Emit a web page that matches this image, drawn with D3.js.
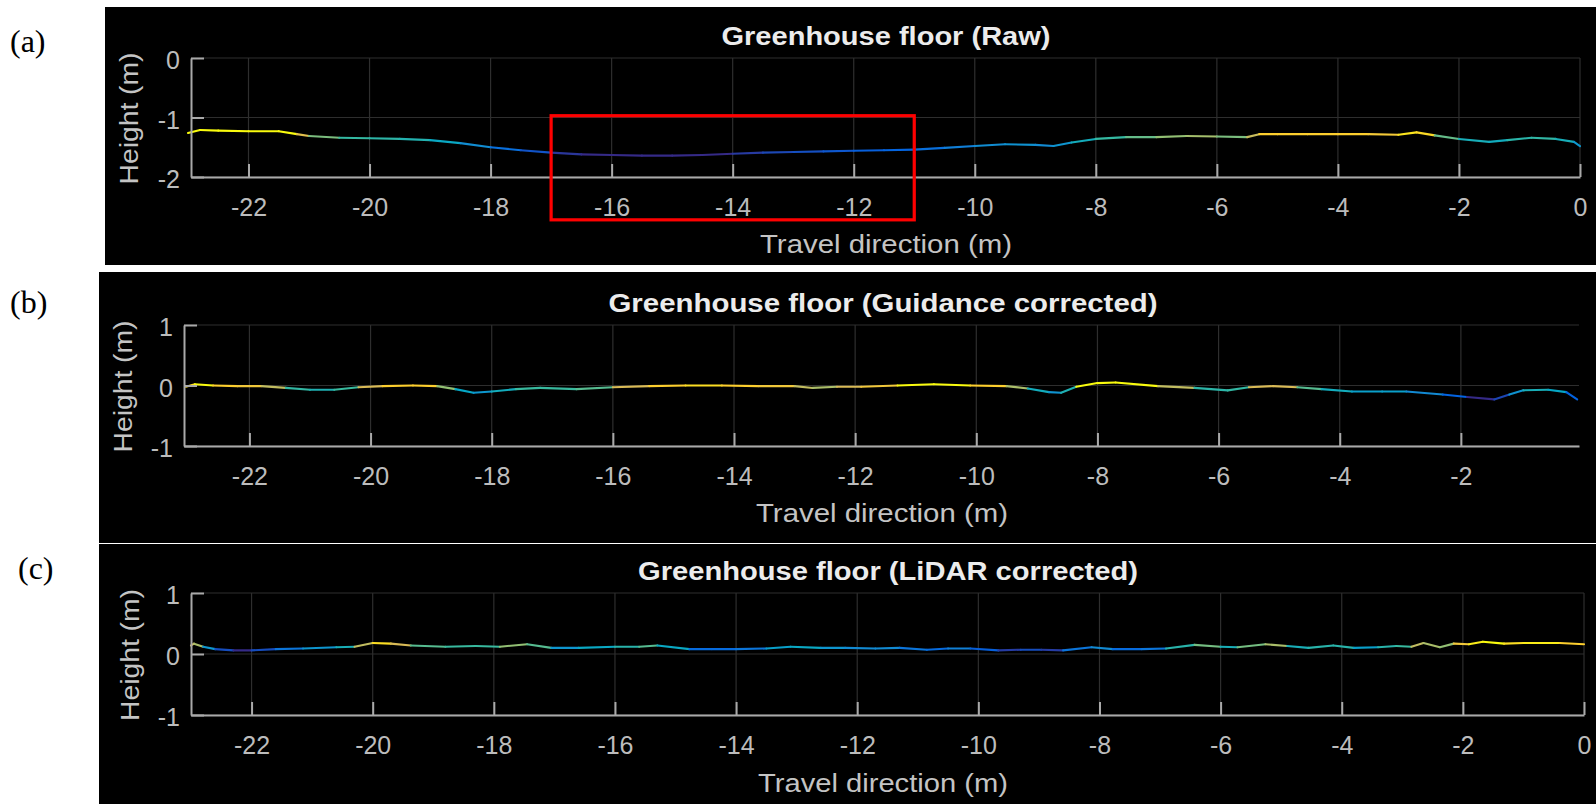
<!DOCTYPE html>
<html><head><meta charset="utf-8">
<script src="https://cdn.jsdelivr.net/npm/d3@7"></script>
<style>
body{margin:0;background:#fff;}
svg{display:block;}
text{font-family:"Liberation Sans",Arial,Helvetica,sans-serif;}
</style></head><body>
<svg id="chart" width="1596" height="804"></svg>
<script>
// ---------------- data ----------------
const panelLabels = ["(a)", "(b)", "(c)"];
const titles = ["Greenhouse floor (Raw)", "Greenhouse floor (Guidance corrected)", "Greenhouse floor (LiDAR corrected)"];
const xAxisLabel = "Travel direction (m)";
const yAxisLabel = "Height (m)";

const xTicksA = [-22, -20, -18, -16, -14, -12, -10, -8, -6, -4, -2, 0];
const xTicksB = [-22, -20, -18, -16, -14, -12, -10, -8, -6, -4, -2];
const xTicksC = [-22, -20, -18, -16, -14, -12, -10, -8, -6, -4, -2, 0];
const yTicksA = [0, -1, -2];
const yTicksB = [1, 0, -1];
const yTicksC = [1, 0, -1];

const xDomainA = [-22.95, 0];
const xDomainB = [-23.08, -0.05];
const xDomainC = [-23.0, 0];
const yDomainA = [-2, 0];
const yDomainB = [-1, 1];
const yDomainC = [-1, 1];

// (a) Raw
const rawX = [-23, -22.8, -22.5, -22, -21.5, -21.2, -21, -20.5, -20, -19.5, -19, -18.5, -18, -17.5, -17, -16.5, -16, -15.5, -15, -14.5, -14, -13.5, -13, -12.5, -12, -11.5, -11, -10.5, -10, -9.5, -9, -8.7, -8.4, -8, -7.5, -7, -6.5, -6, -5.5, -5.3, -5, -4.5, -4, -3.5, -3, -2.7, -2.4, -2, -1.5, -1.2, -0.8, -0.4, -0.1, 0];
const rawY = [-1.26, -1.21, -1.22, -1.23, -1.23, -1.28, -1.31, -1.34, -1.35, -1.36, -1.38, -1.43, -1.5, -1.55, -1.59, -1.62, -1.63, -1.64, -1.64, -1.63, -1.61, -1.59, -1.58, -1.57, -1.56, -1.55, -1.54, -1.51, -1.48, -1.45, -1.46, -1.48, -1.42, -1.36, -1.33, -1.33, -1.31, -1.32, -1.33, -1.28, -1.28, -1.28, -1.28, -1.28, -1.29, -1.25, -1.3, -1.36, -1.41, -1.38, -1.34, -1.36, -1.41, -1.48];

// (b) Guidance corrected
const guidX = [-23.05, -22.9, -22.6, -22.2, -21.8, -21.4, -21.0, -20.6, -20.2, -19.8, -19.3, -18.9, -18.6, -18.3, -18.0, -17.6, -17.2, -16.6, -16.0, -15.4, -14.8, -14.2, -13.6, -13.0, -12.7, -12.3, -11.9, -11.3, -10.7, -10.1, -9.5, -9.15, -8.8, -8.6, -8.35, -8.0, -7.7, -7.0, -6.4, -5.85, -5.5, -5.1, -4.7, -4.3, -3.8, -3.3, -2.9, -2.3, -1.9, -1.45, -1.2, -0.97, -0.56, -0.26, -0.08];
const guidY = [-0.02, 0.02, 0.0, -0.01, -0.01, -0.04, -0.07, -0.07, -0.03, -0.01, 0.0, -0.01, -0.06, -0.12, -0.1, -0.06, -0.04, -0.06, -0.03, -0.01, 0.0, 0.0, -0.01, -0.01, -0.04, -0.02, -0.02, 0.0, 0.02, 0.0, -0.01, -0.05, -0.11, -0.12, -0.02, 0.04, 0.05, -0.01, -0.04, -0.08, -0.03, -0.01, -0.03, -0.06, -0.1, -0.1, -0.1, -0.15, -0.19, -0.23, -0.15, -0.08, -0.07, -0.11, -0.23];

// (c) LiDAR corrected
const lidarX = [-23.0, -22.95, -22.8, -22.6, -22.3, -22.0, -21.6, -21.15, -20.6, -20.3, -20.0, -19.7, -19.37, -18.8, -18.3, -17.9, -17.45, -17.05, -16.6, -16.0, -15.6, -15.3, -14.77, -14.4, -14.0, -13.5, -13.1, -12.6, -12.2, -11.7, -11.3, -10.85, -10.5, -10.13, -9.67, -9.3, -8.96, -8.6, -8.13, -7.78, -7.3, -6.9, -6.43, -6.0, -5.72, -5.26, -4.9, -4.55, -4.14, -3.8, -3.4, -3.1, -2.85, -2.65, -2.38, -2.15, -1.9, -1.67, -1.32, -1.0, -0.74, -0.4, 0];
const lidarY = [0.14, 0.17, 0.12, 0.08, 0.06, 0.06, 0.08, 0.09, 0.11, 0.12, 0.18, 0.17, 0.14, 0.12, 0.13, 0.12, 0.16, 0.1, 0.1, 0.12, 0.12, 0.14, 0.08, 0.08, 0.08, 0.09, 0.12, 0.1, 0.1, 0.09, 0.1, 0.07, 0.09, 0.09, 0.06, 0.07, 0.07, 0.06, 0.11, 0.08, 0.08, 0.09, 0.15, 0.12, 0.11, 0.16, 0.13, 0.1, 0.14, 0.1, 0.11, 0.13, 0.12, 0.18, 0.11, 0.17, 0.16, 0.2, 0.17, 0.18, 0.18, 0.18, 0.16];

// height values mapped to the low / middle / high end of the colormap
const colorAnchorsA = [-1.62, -1.34, -1.26];
const colorAnchorsB = [-0.21, -0.05, 0.01];
const colorAnchorsC = [0.06, 0.125, 0.185];

// highlighted region in panel (a), data units
const highlightX = [-17.0, -11.0];
const highlightY = [-0.97, -2.72];

// parula-like colormap stops
const parula = ["#352a87", "#0363e1", "#1485d4", "#06a7c6", "#38b99e", "#92bf73", "#d9ba56", "#fcce2e", "#f9fb0e"];

// ---------------- layout ----------------
const layout = [
  {bg: [105, 7, 1596, 265], plot: [191, 1580, 58, 177], label: [10, 52], title: [886, 45, 329], xl: [886, 253, 252], yl: [129, 132]},
  {bg: [99, 272, 1596, 543], plot: [184, 1579, 325, 446], label: [10, 313], title: [883, 312, 549], xl: [882, 522, 252], yl: [123, 132]},
  {bg: [99, 544, 1596, 804], plot: [191, 1584, 593, 715], label: [18, 579], title: [888, 580, 500], xl: [883, 792, 250], yl: [130, 132]}
];

const panels = [
  {xs: rawX, ys: rawY, xDomain: xDomainA, yDomain: yDomainA, xTicks: xTicksA, yTicks: yTicksA, anchors: colorAnchorsA},
  {xs: guidX, ys: guidY, xDomain: xDomainB, yDomain: yDomainB, xTicks: xTicksB, yTicks: yTicksB, anchors: colorAnchorsB},
  {xs: lidarX, ys: lidarY, xDomain: xDomainC, yDomain: yDomainC, xTicks: xTicksC, yTicks: yTicksC, anchors: colorAnchorsC}
];

const svg = d3.select("#chart");
svg.append("rect").attr("width", 1596).attr("height", 804).attr("fill", "#fff");

const axisColor = "#a9a9a9";
const gridColor = "#2e2e2e";
const tickTextColor = "#bcbcbc";
const FS = 25;

const parulaScale = d3.scaleLinear()
  .domain(parula.map((_, k) => k / (parula.length - 1)))
  .range(parula).clamp(true);

panels.forEach((p, i) => {
  const L = layout[i];
  const g = svg.append("g");
  g.append("rect").attr("x", L.bg[0]).attr("y", L.bg[1])
    .attr("width", L.bg[2] - L.bg[0]).attr("height", L.bg[3] - L.bg[1]).attr("fill", "#000");

  // panel letter
  svg.append("text").attr("x", L.label[0]).attr("y", L.label[1])
    .style("font-family", "'Liberation Serif','Times New Roman',serif")
    .attr("font-size", 32).attr("fill", "#000").text(panelLabels[i]);

  const x = d3.scaleLinear().domain(p.xDomain).range([L.plot[0], L.plot[1]]);
  const y = d3.scaleLinear().domain(p.yDomain).range([L.plot[3], L.plot[2]]);

  // grid
  const grid = g.append("g");
  grid.selectAll("line.vx").data(p.xTicks).join("line")
    .attr("x1", d => x(d)).attr("x2", d => x(d)).attr("y1", y.range()[0]).attr("y2", y.range()[1])
    .attr("stroke", gridColor).attr("stroke-width", 1.2);
  grid.selectAll("line.hy").data(p.yTicks).join("line")
    .attr("y1", d => y(d)).attr("y2", d => y(d)).attr("x1", x.range()[0]).attr("x2", x.range()[1])
    .attr("stroke", gridColor).attr("stroke-width", 1.2);

  // data line, coloured by height
  const tScale = d3.scaleLinear().domain(p.anchors).range([0, 0.5, 1]).clamp(true);
  const color = v => parulaScale(tScale(v));
  const pts = p.xs.map((xv, k) => [xv, p.ys[k]]);
  g.append("g").selectAll("line").data(d3.pairs(pts)).join("line")
    .attr("x1", d => x(d[0][0])).attr("y1", d => y(d[0][1]))
    .attr("x2", d => x(d[1][0])).attr("y2", d => y(d[1][1]))
    .attr("stroke", d => color((d[0][1] + d[1][1]) / 2))
    .attr("stroke-width", 2.1).attr("stroke-linecap", "round");

  // axes
  const xAxis = g.append("g").attr("transform", `translate(0,${L.plot[3]})`)
    .call(d3.axisBottom(x).tickValues(p.xTicks).tickFormat(d3.format("d")).tickSizeInner(-13).tickSizeOuter(0));
  xAxis.select(".domain").attr("stroke", axisColor).attr("stroke-width", 2);
  xAxis.selectAll(".tick line").attr("stroke", axisColor).attr("stroke-width", 2);
  xAxis.selectAll(".tick text").attr("y", 39).attr("dy", null)
    .attr("fill", tickTextColor).attr("font-size", FS).attr("font-family", null)
    .text(d => d === 0 ? "0" : String(d).replace("\u2212", "-"));

  const yAxis = g.append("g").attr("transform", `translate(${L.plot[0]},0)`)
    .call(d3.axisLeft(y).tickValues(p.yTicks).tickFormat(d3.format("d")).tickSizeInner(-13).tickSizeOuter(0).tickPadding(11));
  yAxis.select(".domain").attr("stroke", axisColor).attr("stroke-width", 2);
  yAxis.selectAll(".tick line").attr("stroke", axisColor).attr("stroke-width", 2);
  yAxis.selectAll(".tick text").attr("dy", "0.42em")
    .attr("fill", tickTextColor).attr("font-size", FS).attr("font-family", null)
    .text(d => String(d).replace("\u2212", "-"));
  g.selectAll(".domain").attr("fill", "none");

  // title
  g.append("text").attr("x", L.title[0]).attr("y", L.title[1]).attr("text-anchor", "middle")
    .attr("font-size", 26).attr("font-weight", "bold").attr("fill", "#ececec")
    .attr("textLength", L.title[2]).attr("lengthAdjust", "spacingAndGlyphs").text(titles[i]);

  // x label
  g.append("text").attr("x", L.xl[0]).attr("y", L.xl[1]).attr("text-anchor", "middle")
    .attr("font-size", 26).attr("fill", "#c4c4c4")
    .attr("textLength", L.xl[2]).attr("lengthAdjust", "spacingAndGlyphs").text(xAxisLabel);

  // y label
  const cy = (L.plot[2] + L.plot[3]) / 2 + 1;
  g.append("text").attr("transform", `translate(${L.yl[0]},${cy}) rotate(-90)`)
    .attr("text-anchor", "middle").attr("dy", "0.35em")
    .attr("font-size", 26).attr("fill", "#c4c4c4")
    .attr("textLength", L.yl[1]).attr("lengthAdjust", "spacingAndGlyphs").text(yAxisLabel);

  // highlight box in panel (a)
  if (i === 0) {
    g.append("rect")
      .attr("x", x(highlightX[0])).attr("y", y(highlightY[0]))
      .attr("width", x(highlightX[1]) - x(highlightX[0]))
      .attr("height", y(highlightY[1]) - y(highlightY[0]))
      .attr("fill", "none").attr("stroke", "#ff0000").attr("stroke-width", 3.2);
  }
});
</script>
</body></html>
